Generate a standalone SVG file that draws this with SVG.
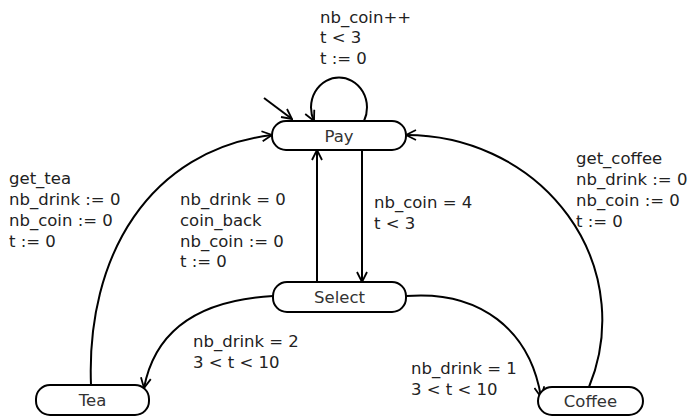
<svg xmlns="http://www.w3.org/2000/svg" width="693" height="417" viewBox="0 0 693 417">
<defs>
<marker id="arr" viewBox="0 0 12 12" refX="11" refY="6" markerWidth="12" markerHeight="12" markerUnits="userSpaceOnUse" orient="auto">
<path d="M1,1 L11,6 L1,11" fill="none" stroke="#000" stroke-width="1.8"/>
</marker>
</defs>
<style>
.node rect{fill:#fff;stroke:#000;stroke-width:2}
.node text{font-family:"DejaVu Sans",sans-serif;font-size:16.5px;fill:#333;text-anchor:middle}
.edge{fill:none;stroke:#000;stroke-width:2;marker-end:url(#arr)}
.lbl{font-family:"DejaVu Sans",sans-serif;font-size:16.5px;fill:#222}
</style>
<rect width="693" height="417" fill="#fff"/>
<g id="edges">
<path class="edge" d="M264,98 L292,119"/>
<path class="edge" d="M364,121 A28 30 0 1 0 314,121"/>
<path class="edge" d="M362,150 L362,282"/>
<path class="edge" d="M317,282 L317,150"/>
<path class="edge" d="M91,385 C86,255 150,150 272,135"/>
<path class="edge" d="M589,387 A196 185 0 0 0 406,135"/>
<path class="edge" d="M273,296 C200,300 155,330 144,388"/>
<path class="edge" d="M406,296 C480,290 530,330 541,397"/>
</g>
<g id="labels">
<text class="lbl" x="320" y="22.5">nb_coin++</text>
<text class="lbl" x="320" y="43.2">t &lt; 3</text>
<text class="lbl" x="320" y="64">t := 0</text>
<text class="lbl" x="9" y="184">get_tea</text>
<text class="lbl" x="9" y="205">nb_drink := 0</text>
<text class="lbl" x="9" y="226">nb_coin := 0</text>
<text class="lbl" x="9" y="246.7">t := 0</text>
<text class="lbl" x="180" y="205">nb_drink = 0</text>
<text class="lbl" x="180" y="226">coin_back</text>
<text class="lbl" x="180" y="246.7">nb_coin := 0</text>
<text class="lbl" x="180" y="267.3">t := 0</text>
<text class="lbl" x="374" y="208.3">nb_coin = 4</text>
<text class="lbl" x="374" y="229.3">t &lt; 3</text>
<text class="lbl" x="576" y="164">get_coffee</text>
<text class="lbl" x="576" y="185">nb_drink := 0</text>
<text class="lbl" x="576" y="206">nb_coin := 0</text>
<text class="lbl" x="576" y="226.7">t := 0</text>
<text class="lbl" x="193" y="347">nb_drink = 2</text>
<text class="lbl" x="193" y="368">3 &lt; t &lt; 10</text>
<text class="lbl" x="411" y="374">nb_drink = 1</text>
<text class="lbl" x="411" y="395">3 &lt; t &lt; 10</text>
</g>
<g id="Pay" class="node"><rect x="272" y="121" width="134" height="29" rx="14" ry="14"/><text x="339" y="141.5">Pay</text></g>
<g id="Select" class="node"><rect x="273" y="282" width="133" height="30" rx="14" ry="14"/><text x="339.5" y="303">Select</text></g>
<g id="Tea" class="node"><rect x="36" y="385" width="113" height="30" rx="14" ry="14"/><text x="92.5" y="406">Tea</text></g>
<g id="Coffee" class="node"><rect x="538" y="387" width="105" height="28" rx="14" ry="14"/><text x="590.5" y="407">Coffee</text></g>
</svg>
